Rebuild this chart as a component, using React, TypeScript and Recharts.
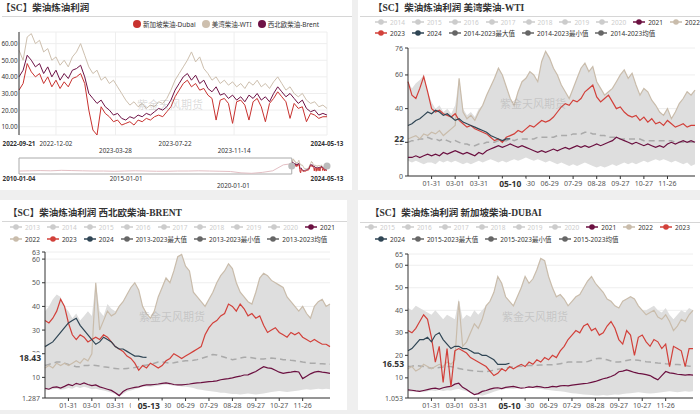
import {
  LineChart,
  Line,
  XAxis,
  YAxis,
  CartesianGrid,
  ComposedChart,
  Area,
  ReferenceArea,
  ReferenceDot,
} from 'recharts'

const FONT = "'Noto Sans', 'Noto Sans CJK SC', sans-serif"
const TITLE_FONT = "'Liberation Serif', 'Noto Sans CJK SC', serif"

// ---------- panel 1: daily cracks since 2022-09-21, one point every 8 days ----------
const mainStep = 8
const sgDubai = [32, 36, 48, 43, 40, 42, 36, 40, 34, 38, 33, 37, 34, 39, 40, 42, 36, 20, 8, 5, 22, 18, 16, 13, 14, 11, 12, 13, 11, 14, 13, 15, 14, 16, 17, 16, 19, 22, 28, 32, 36, 38, 34, 36, 32, 33, 29, 27, 14, 26, 27, 24, 12, 25, 26, 23, 14, 25, 27, 22, 13, 24, 27, 31, 28, 25, 15, 24, 21, 22, 13, 18, 17, 15, 16, 16]
const usWti = [56, 50, 64, 66, 60, 62, 55, 57, 50, 52, 47, 50, 46, 52, 55, 60, 53, 46, 42, 44, 38, 40, 36, 38, 34, 30, 26, 23, 25, 22, 24, 21, 23, 22, 25, 24, 27, 32, 38, 42, 46, 50, 55, 49, 52, 45, 42, 38, 40, 36, 38, 35, 37, 34, 36, 33, 37, 35, 38, 34, 36, 33, 37, 40, 36, 32, 34, 30, 28, 30, 26, 24, 25, 22, 23, 21]
const nweBrent = [40, 44, 53, 50, 46, 48, 42, 46, 40, 44, 38, 42, 39, 44, 45, 47, 40, 30, 27, 24, 26, 22, 20, 17, 18, 15, 14, 16, 15, 17, 16, 18, 17, 19, 21, 20, 22, 26, 32, 36, 40, 42, 38, 41, 36, 38, 33, 31, 34, 29, 30, 27, 29, 26, 28, 25, 29, 27, 30, 26, 28, 25, 30, 34, 31, 28, 30, 27, 24, 26, 21, 19, 20, 17, 18, 17]
const mainTicks = [0, 72, 188, 304, 419, 600]
const mainTickLabels = ['2022-09-21', '2022-12-02', '2023-03-28', '2023-07-22', '2023-11-14', '2024-05-13']

// overview strip (days since 2010-01-04)
const overviewDays = [0, 180, 360, 540, 720, 900, 1080, 1260, 1440, 1620, 1800, 1980, 2160, 2340, 2520, 2700, 2880, 3060, 3240, 3420, 3600, 3780, 3960, 4140, 4320, 4500, 4643]
const overviewVals = [13, 14, 15, 14, 16, 15, 14, 13, 13, 12, 13, 14, 13, 12, 12, 13, 13, 14, 13, 12, 11, 5, 3, 7, 14, 40, 45]
const overviewTicks = [0, 1823, 3649, 5243]
const overviewTickLabels = ['2010-01-04', '2015-01-01', '2020-01-01', '2024-05-13']
const zoomStart = 4643
const zoomEnd = 5243

// ---------- seasonal panels: one point every 5 days of the (leap) year ----------
const seasonStep = 5
const seasonTicks = [30, 60, 90, 120, 150, 180, 210, 240, 270, 300, 330]

const wtiMax = [56, 52, 55, 57, 60, 50, 44, 40, 42, 38, 40, 37, 42, 58, 40, 36, 38, 35, 40, 42, 48, 53, 58, 64, 60, 53, 46, 42, 50, 56, 58, 62, 60, 56, 68, 74, 70, 64, 60, 54, 50, 46, 52, 58, 64, 67, 62, 65, 56, 52, 48, 50, 52, 56, 60, 63, 58, 61, 54, 48, 52, 50, 45, 42, 38, 36, 40, 34, 38, 43, 46, 50, 48, 51]
const wtiMin = [9, 8, 9, 8, 7, 8, 8, 7, 9, 8, 9, 8, 9, 8, 7, 8, 7, 8, 9, 8, 9, 10, 9, 8, 9, 8, 9, 10, 9, 10, 11, 10, 9, 10, 9, 8, 9, 8, 7, 8, 7, 6, 7, 6, 7, 8, 7, 6, 5, 6, 5, 6, 7, 6, 7, 8, 7, 8, 7, 8, 9, 8, 9, 10, 9, 10, 9, 8, 9, 8, 7, 8, 6, 7]
const wtiAvg = [20, 21, 21, 22, 22, 23, 22, 22, 21, 22, 21, 20, 21, 20, 19, 19, 18, 18, 19, 19, 20, 20, 20, 21, 21, 21, 22, 21, 22, 22, 22, 22, 22, 23, 23, 23, 23, 23, 24, 24, 24, 24, 25, 25, 25, 26, 26, 25, 25, 24, 24, 23, 23, 23, 22, 22, 22, 22, 22, 22, 21, 21, 21, 21, 21, 21, 21, 21, 20, 20, 20, 20, 20, 20]
const wti21 = [11, 11, 12, 11, 12, 13, 12, 13, 12, 14, 13, 14, 15, 14, 13, 14, 13, 12, 14, 13, 15, 16, 17, 18, 17, 18, 19, 18, 17, 18, 17, 16, 15, 14, 15, 14, 15, 16, 15, 16, 17, 16, 17, 18, 17, 18, 17, 18, 19, 18, 19, 20, 21, 23, 22, 21, 20, 19, 20, 19, 18, 19, 18, 17, 18, 17, 19, 20, 19, 20, 21, 20, 21, 20]
const wti22 = [22, 23, 24, 22, 25, 24, 26, 25, 27, 24, 26, 28, 30, 58, 38, 34, 36, 33, 38, 42, 48, 53, 58, 64, 60, 53, 46, 42, 50, 56, 58, 62, 60, 56, 68, 74, 70, 64, 60, 54, 50, 46, 52, 58, 64, 67, 62, 65, 56, 52, 48, 50, 52, 56, 60, 63, 58, 61, 54, 48, 52, 50, 45, 42, 38, 36, 40, 34, 38, 43, 46, 50, 48, 51]
const wti23 = [56, 48, 46, 52, 59, 50, 40, 38, 39, 37, 36, 35, 37, 33, 31, 29, 30, 28, 27, 26, 25, 23, 21, 22, 20, 23, 24, 25, 27, 26, 28, 30, 29, 31, 33, 32, 33, 35, 38, 41, 43, 42, 45, 44, 46, 50, 52, 54, 47, 44, 46, 48, 44, 40, 41, 38, 36, 35, 36, 33, 35, 32, 34, 31, 32, 30, 33, 31, 29, 30, 31, 29, 30, 30]
const wti24 = [30, 31, 33, 34, 36, 38, 37, 39, 38, 36, 37, 35, 33, 34, 32, 31, 30, 29, 28, 27, 26, 24, 23, 22, 21, 22, 22]

const brentMax = [38, 40, 43, 45, 44, 40, 38, 35, 37, 34, 36, 38, 36, 50, 38, 36, 41, 39, 38, 40, 42, 45, 48, 50, 47, 40, 37, 35, 38, 44, 48, 52, 50, 55, 61, 62, 57, 55, 46, 44, 42, 40, 43, 46, 50, 53, 55, 58, 56, 50, 46, 44, 42, 41, 46, 52, 54, 53, 51, 50, 49, 48, 44, 42, 40, 38, 40, 37, 35, 40, 42, 43, 40, 41]
const brentMin = [4.5, 4.8, 5, 5.2, 4.8, 5, 5.5, 5.2, 6, 5.5, 6, 5.6, 5, 5.2, 4.8, 4.5, 4, 3.5, 3, 2, 3, 4, 4.5, 5, 5.5, 6, 6.2, 6, 6.3, 6.5, 6.8, 7, 6.8, 6.5, 6.5, 6.2, 6, 5.8, 5.5, 5, 4.8, 4.5, 4.2, 4, 3.8, 3.5, 3.5, 3.2, 3, 3, 2.8, 3, 3.2, 3, 2.8, 3, 3.2, 3.5, 3.8, 4, 4.2, 4, 3.8, 4, 4.2, 4.5, 4.8, 5, 4.8, 5, 5.2, 5, 5.2, 5]
const brentAvg = [15, 15.5, 16, 16.5, 16.5, 16, 15.5, 15, 14.5, 14.5, 15, 15, 15.2, 15, 14.8, 14.5, 14.3, 14, 13.8, 13.6, 13.6, 13.8, 14, 14.2, 14.5, 15, 15.2, 15.5, 16, 16.5, 16.5, 16.3, 16, 16.2, 16.5, 16.8, 17, 17, 17.2, 17.5, 18, 18.5, 19, 19.7, 19.5, 19, 18.5, 18, 17.5, 17.8, 18.2, 18.5, 18.6, 18.3, 18, 17.8, 17.8, 18, 18.2, 18, 17.8, 17.5, 17.5, 17.2, 17, 16.8, 16.5, 16.3, 16, 16, 15.8, 15.8, 15.6, 15.6]
const brent21 = [5.4, 5, 5.8, 6, 5.5, 6.2, 7, 6.5, 7.5, 7, 7.7, 7, 6.5, 6.8, 6, 5.5, 5, 4.5, 3.5, 2.3, 4, 5, 5.4, 5.8, 6, 6.5, 6.8, 6.8, 7, 7.2, 7.5, 7.7, 7.4, 7, 6.8, 6.8, 7, 7.2, 7.5, 7.7, 7.8, 8, 8.2, 8.3, 8.5, 9, 9.3, 9.5, 9.8, 10.2, 10.5, 11, 11.1, 11.8, 12.5, 13.5, 14.5, 14, 13.8, 13, 12.2, 11.7, 12, 12.2, 12.5, 12.3, 9.5, 10.5, 11.5, 12.2, 12.5, 12.2, 12, 11.7]
const brent22 = [14, 15, 14, 16, 15, 16, 15, 16, 17, 16, 18, 17, 20, 50, 30, 34, 38, 36, 37, 40, 42, 45, 48, 50, 47, 40, 37, 35, 38, 44, 48, 52, 50, 55, 61, 62, 57, 55, 46, 44, 42, 40, 43, 46, 50, 53, 55, 58, 56, 50, 46, 44, 42, 41, 46, 52, 54, 53, 51, 50, 49, 48, 44, 42, 40, 38, 40, 37, 35, 40, 42, 43, 40, 41]
const brent23 = [34, 33, 35, 38, 43, 40, 33, 28, 26, 28, 27, 25, 26, 27, 26, 28, 27, 25, 23, 22, 21, 19, 18, 16, 13, 15, 14, 16, 15, 14, 15, 17, 18, 20, 19, 18, 19, 20, 21, 22, 23, 28, 31, 33, 34, 36, 37, 41, 40, 38, 41, 39, 36, 37, 35, 36, 32, 29, 30, 31, 29, 28, 27, 29, 28, 29, 27, 26, 25, 26, 25, 24, 24, 23]
const brent24 = [23, 24, 25, 27, 29, 31, 33, 34, 35, 32, 30, 28, 26, 24, 25, 27, 26, 25, 23, 22, 22, 21, 20, 19, 19, 18.6, 18.43]

const dubaiMax = [41, 40, 42, 41, 40, 39, 38, 40, 38, 36, 38, 37, 36, 45, 36, 38, 37, 40, 38, 40, 42, 44, 48, 55, 52, 46, 44, 42, 46, 50, 55, 52, 54, 58, 63, 62, 55, 50, 46, 47, 45, 42, 44, 46, 47, 50, 53, 55, 52, 50, 48, 45, 44, 42, 41, 44, 45, 46, 45, 42, 40, 40, 41, 42, 40, 39, 41, 38, 36, 38, 40, 39, 41, 40]
const dubaiMin = [4, 3.8, 4.2, 4, 3.6, 4, 4.4, 4.2, 4.6, 4.2, 4.5, 4.4, 4.8, 5, 4.5, 4, 3.5, 3, 2.5, 2, 2.6, 3.2, 3.8, 4.4, 4.8, 5, 5.2, 5, 5.4, 5.6, 5.8, 6, 5.6, 5.2, 5, 4.8, 4.6, 4.4, 4.2, 4, 3.8, 3.5, 3.2, 3, 2.8, 2.6, 2.5, 2.4, 2.2, 2.2, 2.4, 2.2, 2.4, 2.6, 2.5, 2.8, 3, 3.2, 3.4, 3.6, 3.4, 3.2, 3, 3.2, 3.4, 3.6, 3.8, 4, 3.8, 3.6, 3.8, 4, 3.8, 4]
const dubaiAvg = [15, 15.2, 15.5, 15.3, 15, 14.6, 14.3, 14.4, 14.6, 14.8, 15, 15, 14.6, 14.2, 13.8, 13.5, 13.3, 13.1, 12.9, 12.8, 12.8, 13, 13.4, 13.8, 14, 14.3, 14.6, 15, 15, 15.2, 15.4, 15.5, 15.5, 15.6, 15.7, 15.8, 15.8, 15.8, 16, 16.3, 16.6, 17, 17, 17.1, 17, 17, 17.2, 17.8, 18.4, 18.7, 18.5, 18, 17.5, 17.1, 17, 17.3, 17.7, 18, 18, 17.8, 17.5, 17.2, 17, 16.8, 16.6, 16.5, 16.3, 16.2, 16, 15.9, 15.8, 15.5, 15.2, 15]
const dubai21 = [4.7, 4.5, 4.2, 4, 4.4, 4.8, 5.2, 5.4, 5, 5.6, 6, 6.2, 7.2, 7.6, 5.8, 4.8, 3.6, 2.6, 3, 4, 4.4, 5, 5.4, 5.6, 5.2, 5.8, 6, 6.2, 5.8, 5.4, 5.6, 6, 5.8, 6.2, 6, 5.6, 5.8, 6.2, 6, 6.4, 6.6, 6.4, 6.8, 7, 7.2, 7.4, 7.6, 8, 8.4, 9, 9.6, 10, 10.6, 11.4, 12.7, 13, 13.5, 13, 12.4, 12, 11.8, 11.4, 11, 10, 9.1, 11, 12.8, 12.2, 12, 11.6, 11.4, 11.2, 11.4, 11.2]
const dubai22 = [14, 15, 13, 14, 16, 15, 14, 15, 16, 15, 17, 16, 18, 44, 24, 26, 30, 34, 32, 36, 42, 44, 48, 55, 52, 46, 44, 42, 46, 50, 55, 52, 54, 58, 63, 62, 55, 50, 46, 47, 45, 42, 44, 46, 47, 50, 53, 55, 52, 50, 48, 45, 44, 42, 41, 44, 45, 46, 45, 42, 40, 38, 39, 40, 37, 36, 38, 35, 31, 33, 36, 35, 38, 40]
const dubai23 = [31, 30, 32, 35, 38, 36, 28, 17, 24, 8, 23, 6, 22, 23, 22, 21, 19, 18, 17, 16, 15, 13, 11, 12, 14, 13, 15, 14, 15, 16, 15, 17, 16, 18, 17, 19, 18, 20, 19, 22, 24, 27, 29, 31, 30, 33, 34, 31, 32, 29, 30, 33, 35, 32, 27, 25, 31, 29, 20, 28, 29, 26, 24, 27, 26, 23, 25, 15, 24, 23, 22, 15, 23, 23]
const dubai24 = [22, 23, 25, 27, 27, 28, 26, 29, 30, 27, 25, 23, 24, 24, 23, 23, 22, 21, 21, 20, 20, 19, 18, 16, 16, 16, 16.5]

const wtiLegend = [
  ['2014', '2015', '2016', '2017', '2018', '2019', '2020', '2021', '2022'],
  ['2023', '2024', '2014-2023最大值', '2014-2023最小值', '2014-2023均值'],
]
const brentLegend = [
  ['2013', '2014', '2015', '2016', '2017', '2018', '2019', '2020', '2021'],
  ['2022', '2023', '2024', '2013-2023最大值', '2013-2023最小值', '2013-2023均值'],
]
const dubaiLegend = [
  ['2015', '2016', '2017', '2018', '2019', '2020', '2021', '2022', '2023'],
  ['2024', '2015-2023最大值', '2015-2023最小值', '2015-2023均值'],
]

const C = {
  dubai: '#c8322f',
  wti: '#cdbfae',
  brent: '#6d1246',
  y21: '#6b1040',
  y22: '#c9bcab',
  y23: '#d2403a',
  y24: '#2f4554',
  stat: '#666',
  off: '#ccc',
  band: '#dedede',
  avg: '#aaa',
}

const TICK_SIZE = 3
const TICK_GAP = 1.5

const fmtDay = (d: number) => {
  const dt = new Date(2024, 0, 1 + d)
  return `${String(dt.getMonth() + 1).padStart(2, '0')}-${String(dt.getDate()).padStart(2, '0')}`
}

function legendColor(name: string) {
  if (name.includes('-')) return C.stat
  if (name === '2021') return C.y21
  if (name === '2022') return C.y22
  if (name === '2023') return C.y23
  if (name === '2024') return C.y24
  return C.off
}

function DateTick(props: any) {
  const { x, y, payload, ticks, labels, lowIdx } = props
  const i = ticks.indexOf(payload.value)
  if (i < 0) return null
  const bold = i === 0 || i === ticks.length - 1
  const dy = lowIdx.includes(i) ? 15 : 8
  return (
    <text x={x} y={y + dy} textAnchor="middle" dominantBaseline="central" fontSize={6.3} fontWeight={bold ? 'bold' : 'normal'} fill="#333">
      {labels[i]}
    </text>
  )
}

function MainYTick(props: any) {
  const { x, y, payload } = props
  return (
    <text x={x} y={y} textAnchor="end" dominantBaseline="central" fontSize={6.3} fill="#333">
      {payload.value.toFixed(2)}
    </text>
  )
}

// day ticks; the pointer label (drawn last) sits on a white box like the reference
function SeasonXTick(props: any) {
  const { x, y, payload, markDay } = props
  const v = payload.value
  if (v === markDay) {
    return (
      <g>
        <rect x={x - 18} y={y - 2} width={34} height={10} fill="#fff" />
        <text x={x} y={y + 2.5} textAnchor="middle" dominantBaseline="central" fontSize={8.5} fontWeight="bold" fill="#333">
          {fmtDay(v)}
        </text>
      </g>
    )
  }
  return (
    <g>
      <line x1={x} x2={x} y1={y - TICK_SIZE - TICK_GAP} y2={y - TICK_GAP} stroke="#333" />
      <text x={x} y={y + 2.5} textAnchor="middle" dominantBaseline="central" fontSize={7} fill="#555">
        {fmtDay(v)}
      </text>
    </g>
  )
}

function SeasonYTick(props: any) {
  const { x, y, payload, markValue } = props
  const v = payload.value
  if (v === markValue) {
    const w = String(v).length * 5 + 3
    return (
      <g>
        <rect x={x + 1 - w} y={y - 5} width={w + 1} height={10} fill="#fff" />
        <text x={x + 1} y={y} textAnchor="end" dominantBaseline="central" fontSize={8.5} fontWeight="bold" fill="#333">
          {v}
        </text>
      </g>
    )
  }
  return (
    <g>
      <line x1={x + 2} x2={x + 2 + TICK_SIZE} y1={y} y2={y} stroke="#333" />
      <text x={x} y={y} textAnchor="end" dominantBaseline="central" fontSize={7} fill="#555">
        {v}
      </text>
    </g>
  )
}

function Watermark({ x, y }: { x: number; y: number }) {
  return (
    <div style={{ position: 'absolute', left: x - 40, top: y - 7, width: 80, textAlign: 'center', fontSize: 11, color: 'rgba(150,150,150,0.35)', whiteSpace: 'nowrap', pointerEvents: 'none' }}>
      紫金天风期货
    </div>
  )
}

function Title({ text, left, top, lineTop }: { text: string; left: number; top: number; lineTop: number }) {
  return (
    <>
      <div style={{ position: 'absolute', left, top, fontFamily: TITLE_FONT, fontWeight: 'bold', fontSize: 9.5, color: '#333', whiteSpace: 'nowrap', lineHeight: '12px' }}>
        {text}
      </div>
      <div style={{ position: 'absolute', left: 2, right: 0, top: lineTop, height: 1, background: '#d6d6d6' }} />
    </>
  )
}

// ---------- panel 1 ----------
function MainPanel() {
  const data = sgDubai.map((v, i) => ({ day: i * mainStep, dubai: v, wti: usWti[i], brent: nweBrent[i] }))
  const overview = [
    ...overviewDays.map((d, i) => ({ day: d, hist: overviewVals[i] })),
    ...data.map((r) => ({ day: zoomStart + r.day, dubai: r.dubai, wti: r.wti, brent: r.brent })),
  ]
  const legend = [
    { name: '新加坡柴油-Dubai', color: C.dubai },
    { name: '美湾柴油-WTI', color: C.wti },
    { name: '西北欧柴油-Brent', color: C.brent },
  ]
  return (
    <div style={{ position: 'absolute', left: 0, top: 0, width: 352, height: 190, background: '#fff', overflow: 'hidden' }}>
      <Title text="【SC】柴油炼油利润" left={1} top={2} lineTop={16} />
      <div style={{ position: 'absolute', left: 133, top: 19, display: 'flex', alignItems: 'center', fontSize: 6.5, color: '#333', whiteSpace: 'nowrap' }}>
        {legend.map((l) => (
          <div key={l.name} style={{ display: 'flex', alignItems: 'center', marginRight: 6 }}>
            <span style={{ width: 8, height: 8, borderRadius: 4, background: l.color, marginRight: 2, display: 'inline-block' }} />
            <span>{l.name}</span>
          </div>
        ))}
      </div>
      <div style={{ position: 'absolute', left: 0, top: 0 }}>
        <LineChart width={352} height={156} data={data} margin={{ top: 32, right: 25, left: 0, bottom: 6 }}>
          <CartesianGrid stroke="#eee" />
          <XAxis
            dataKey="day"
            type="number"
            domain={[0, 600]}
            ticks={mainTicks}
            interval={0}
            height={15}
            axisLine={false}
            tickLine={false}
            tickSize={0}
            tickMargin={0}
            tick={(p: any) => <DateTick {...p} ticks={mainTicks} labels={mainTickLabels} lowIdx={[2, 4]} />}
          />
          <YAxis
            width={19}
            domain={[5, 67]}
            ticks={[10, 20, 30, 40, 50, 60]}
            interval={0}
            allowDataOverflow
            axisLine={{ stroke: '#333' }}
            tickLine={false}
            tickSize={0}
            tickMargin={1.5}
            tick={(p: any) => <MainYTick {...p} />}
          />
          <Line dataKey="wti" stroke={C.wti} strokeWidth={1} dot={false} activeDot={false} type="linear" isAnimationActive={false} />
          <Line dataKey="brent" stroke={C.brent} strokeWidth={1} dot={false} activeDot={false} type="linear" isAnimationActive={false} />
          <Line dataKey="dubai" stroke={C.dubai} strokeWidth={1} dot={false} activeDot={false} type="linear" isAnimationActive={false} />
        </LineChart>
      </div>
      <div style={{ position: 'absolute', left: 0, top: 150 }}>
        <LineChart width={352} height={40} data={overview} margin={{ top: 8, right: 25, left: 19, bottom: 0 }}>
          <XAxis
            dataKey="day"
            type="number"
            domain={[0, zoomEnd]}
            ticks={overviewTicks}
            interval={0}
            height={16}
            axisLine={false}
            tickLine={false}
            tickSize={0}
            tickMargin={0}
            tick={(p: any) => <DateTick {...p} ticks={overviewTicks} labels={overviewTickLabels} lowIdx={[2]} y={p.y - 4} />}
          />
          <YAxis hide domain={[0, 70]} />
          <ReferenceArea x1={0} x2={zoomStart} fill="#000" fillOpacity={0} stroke="#aaa" strokeWidth={1} />
          <Line dataKey="hist" stroke="#e3bfc4" strokeWidth={1} dot={false} activeDot={false} type="linear" isAnimationActive={false} connectNulls />
          <Line dataKey="wti" stroke={C.wti} strokeWidth={1} dot={false} activeDot={false} type="linear" isAnimationActive={false} />
          <Line dataKey="brent" stroke={C.brent} strokeWidth={1} dot={false} activeDot={false} type="linear" isAnimationActive={false} />
          <Line dataKey="dubai" stroke={C.dubai} strokeWidth={1} dot={false} activeDot={false} type="linear" isAnimationActive={false} />
          <ReferenceDot x={zoomStart} y={35} r={3.5} fill="#bbb" stroke="none" />
          <ReferenceDot x={zoomEnd} y={35} r={3.5} fill="#bbb" stroke="none" />
        </LineChart>
      </div>
      <Watermark x={170} y={103} />
    </div>
  )
}

// ---------- seasonal panels ----------
type SeasonCfg = {
  left: number
  top: number
  width: number
  height: number
  title: string
  titleLeft: number
  titleTop: number
  lineTop: number
  legend: string[][]
  legendLeft: number[]
  legendTop: number[]
  max: number[]
  min: number[]
  avg: number[]
  y21: number[]
  y22: number[]
  y23: number[]
  y24: number[]
  yDomain: [number, number]
  yTicks: number[]
  margin: { top: number; right: number }
  yWidth: number
  markDay: number
  markValue: number
  wm: [number, number]
}

const wtiCfg: SeasonCfg = {
  left: 358, top: 0, width: 342, height: 190,
  title: '【SC】柴油炼油利润 美湾柴油-WTI', titleLeft: 15, titleTop: 2, lineTop: 16,
  legend: wtiLegend, legendLeft: [17, 17], legendTop: [22, 33],
  max: wtiMax, min: wtiMin, avg: wtiAvg, y21: wti21, y22: wti22, y23: wti23, y24: wti24,
  yDomain: [0, 76], yTicks: [0, 20, 40, 60, 76],
  margin: { top: 48, right: 5 }, yWidth: 50,
  markDay: 130, markValue: 22, wm: [175, 102],
}
const brentCfg: SeasonCfg = {
  left: 0, top: 200, width: 347, height: 210,
  title: '【SC】柴油炼油利润 西北欧柴油-BRENT', titleLeft: 8, titleTop: 7, lineTop: 21,
  legend: brentLegend, legendLeft: [10, 10], legendTop: [27, 39],
  max: brentMax, min: brentMin, avg: brentAvg, y21: brent21, y22: brent22, y23: brent23, y24: brent24,
  yDomain: [1.287, 63], yTicks: [1.287, 10, 20, 30, 40, 50, 60, 63],
  margin: { top: 52, right: 17 }, yWidth: 45,
  markDay: 133, markValue: 18.43, wm: [172, 115],
}
const dubaiCfg: SeasonCfg = {
  left: 358, top: 200, width: 342, height: 210,
  title: '【SC】柴油炼油利润 新加坡柴油-DUBAI', titleLeft: 12, titleTop: 7, lineTop: 22,
  legend: dubaiLegend, legendLeft: [7, 17], legendTop: [27, 39],
  max: dubaiMax, min: dubaiMin, avg: dubaiAvg, y21: dubai21, y22: dubai22, y23: dubai23, y24: dubai24,
  yDomain: [1.053, 65], yTicks: [1.053, 10, 20, 30, 40, 50, 60, 65],
  margin: { top: 54, right: 7 }, yWidth: 50,
  markDay: 130, markValue: 16.53, wm: [177, 115],
}

function SeasonLegend({ cfg }: { cfg: SeasonCfg }) {
  return (
    <>
      {cfg.legend.map((row, r) => (
        <div key={r} style={{ position: 'absolute', left: cfg.legendLeft[r], top: cfg.legendTop[r] - 5, height: 10, display: 'flex', alignItems: 'center', fontSize: 6.5, whiteSpace: 'nowrap' }}>
          {row.map((name) => {
            const col = legendColor(name)
            return (
              <div key={name} style={{ display: 'flex', alignItems: 'center', marginRight: 7 }}>
                <svg width={12} height={8} style={{ marginRight: 3 }}>
                  <line x1={0} y1={4} x2={12} y2={4} stroke={col} strokeWidth={1.5} />
                  <circle cx={6} cy={4} r={2.8} fill={col} />
                </svg>
                <span style={{ color: col === C.off ? C.off : '#333' }}>{name}</span>
              </div>
            )
          })}
        </div>
      ))}
    </>
  )
}

function SeasonPanel({ cfg }: { cfg: SeasonCfg }) {
  const data = cfg.max.map((mx, i) => ({
    day: i * seasonStep,
    range: [cfg.min[i], mx],
    avg: cfg.avg[i],
    y21: cfg.y21[i],
    y22: cfg.y22[i],
    y23: cfg.y23[i],
    y24: i < cfg.y24.length ? cfg.y24[i] : null,
  }))
  const xAxisH = cfg.height === 190 ? 14 : 12
  return (
    <div style={{ position: 'absolute', left: cfg.left, top: cfg.top, width: cfg.width, height: cfg.height, background: '#fff', overflow: 'hidden' }}>
      <Title text={cfg.title} left={cfg.titleLeft} top={cfg.titleTop} lineTop={cfg.lineTop} />
      <SeasonLegend cfg={cfg} />
      <div style={{ position: 'absolute', left: 0, top: 0 }}>
        <ComposedChart width={cfg.width} height={cfg.height} data={data} margin={{ top: cfg.margin.top, right: cfg.margin.right, left: 0, bottom: 0 }}>
          <CartesianGrid stroke="#eee" vertical={false} horizontalValues={cfg.yTicks} />
          <XAxis
            dataKey="day"
            type="number"
            domain={[0, 365]}
            ticks={[...seasonTicks, cfg.markDay]}
            interval={0}
            height={xAxisH}
            axisLine={{ stroke: '#333' }}
            tickLine={false}
            tickSize={TICK_SIZE}
            tickMargin={TICK_GAP}
            tick={(p: any) => <SeasonXTick {...p} markDay={cfg.markDay} />}
          />
          <YAxis
            width={cfg.yWidth}
            domain={cfg.yDomain}
            ticks={[...cfg.yTicks, cfg.markValue]}
            interval={0}
            allowDataOverflow
            axisLine={{ stroke: '#333' }}
            tickLine={false}
            tickSize={TICK_SIZE}
            tickMargin={2}
            tick={(p: any) => <SeasonYTick {...p} markValue={cfg.markValue} />}
          />
          <Area dataKey="range" type="linear" stroke="none" fill={C.band} fillOpacity={1} dot={false} activeDot={false} isAnimationActive={false} />
          <Line dataKey="avg" stroke={C.avg} strokeWidth={1.5} strokeDasharray="6 4" dot={false} activeDot={false} type="linear" isAnimationActive={false} />
          <Line dataKey="y21" stroke={C.y21} strokeWidth={1.2} dot={false} activeDot={false} type="linear" isAnimationActive={false} />
          <Line dataKey="y22" stroke={C.y22} strokeWidth={1.2} dot={false} activeDot={false} type="linear" isAnimationActive={false} />
          <Line dataKey="y23" stroke={C.y23} strokeWidth={1.2} dot={false} activeDot={false} type="linear" isAnimationActive={false} />
          <Line dataKey="y24" stroke={C.y24} strokeWidth={1.2} dot={false} activeDot={false} type="linear" isAnimationActive={false} />
        </ComposedChart>
      </div>
      <Watermark x={cfg.wm[0]} y={cfg.wm[1]} />
    </div>
  )
}

export default function App() {
  return (
    <div style={{ position: 'absolute', left: 0, top: 0, width: 700, height: 414, background: '#efefef', fontFamily: FONT, overflow: 'hidden' }}>
      <MainPanel />
      <SeasonPanel cfg={wtiCfg} />
      <SeasonPanel cfg={brentCfg} />
      <SeasonPanel cfg={dubaiCfg} />
    </div>
  )
}
